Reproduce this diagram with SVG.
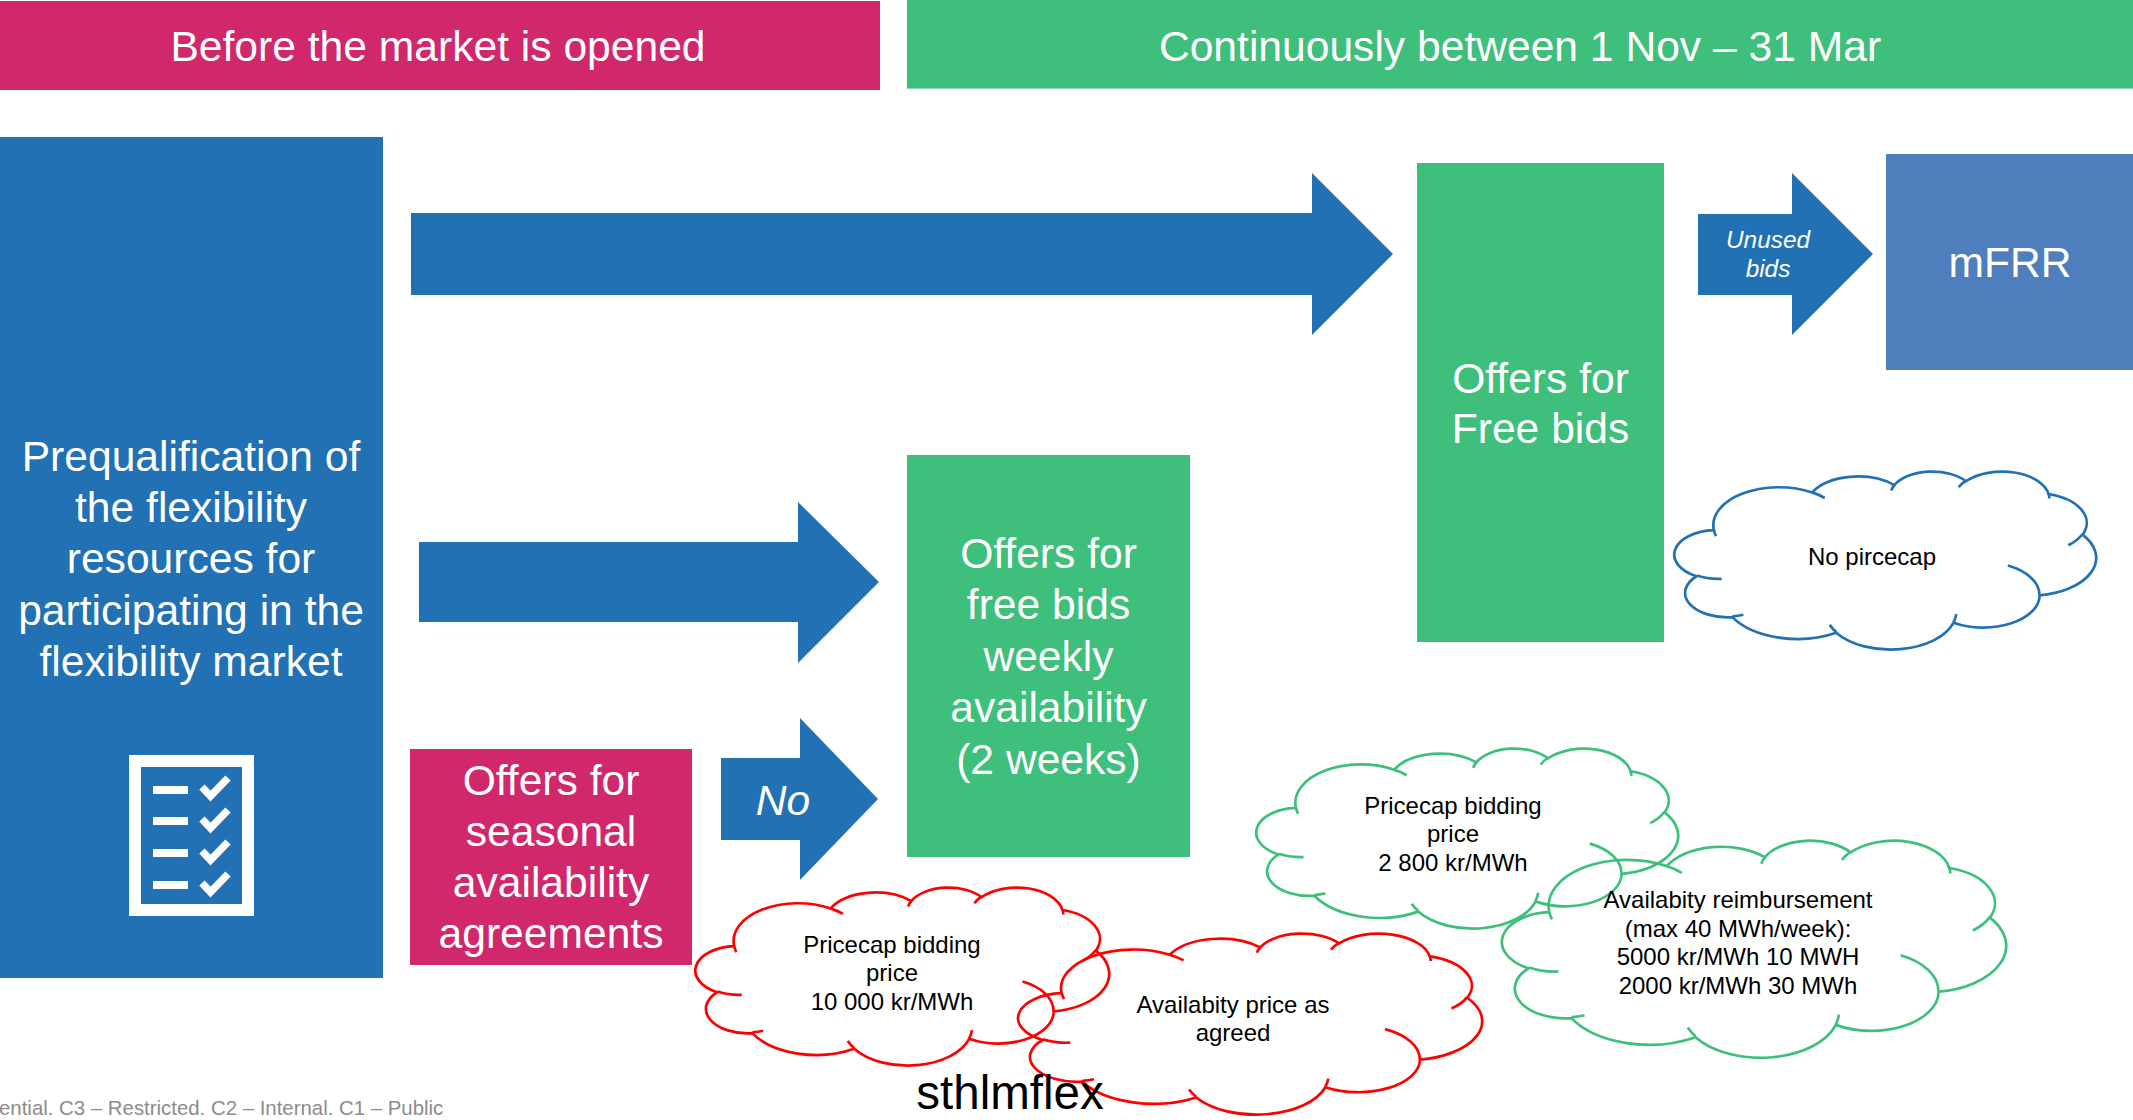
<svg xmlns="http://www.w3.org/2000/svg" width="2133" height="1120" viewBox="0 0 2133 1120">
<style>
text{font-family:"Liberation Sans",Arial,Helvetica,sans-serif}
.w{fill:#ffffff;font-size:42.6px;text-anchor:middle}
.k{fill:#000000;font-size:24px;text-anchor:middle}
.mag{fill:#D1276B}
.grn{fill:#3EC07C}
.blu{fill:#2271B4}
.cl{fill:none;stroke-width:2.7}
.cb{stroke:#2271B4}
.cg{stroke:#3EC07C}
.cr{stroke:#FF0000}
</style>
<defs>
<g id="cloud">
<path vector-effect="non-scaling-stroke" d="M39 143.7A67.53 91.9 0 0 1 140.04 52.01A53.33 72.67 0 0 1 224.55 34.31A43.65 59.45 0 0 1 298.32 24.79A48.57 65.95 0 0 1 383.18 55.73A53.33 72.73 0 0 1 418.18 154.57A67.75 92.2 0 0 1 374.03 301.99A57.85 78.67 0 0 1 285.54 368.09A67.52 92.15 0 0 1 164.79 392.62A77.2 105.43 0 0 1 58.02 354.66A43.6 59.18 0 0 1 21.11 255.44A43.45 59.45 0 0 1 39 143.7Z"/>
<path vector-effect="non-scaling-stroke" d="M46.93 261.77A43.45 59.45 0 0 1 21.6 253.8M69.28 348.99A43.6 59.18 0 0 1 58.2 352.8M164.78 390.9A67.52 92.15 0 0 1 158.1 373.49M288.27 347.51A67.52 92.15 0 0 1 285.6 366.6M341.29 229.54A57.85 78.67 0 0 1 373.8 300.9M417.98 153.54A53.33 72.73 0 0 1 403.5 180.3M383.24 54.26A48.57 65.95 0 0 1 384 66.91M290.78 39.52A48.57 65.95 0 0 1 298.19 23.39M221.41 47.2A43.65 59.45 0 0 1 225.01 33.31M140 51.92A67.53 91.9 0 0 1 153 65.41M41.27 157.89A67.53 91.9 0 0 1 39.01 143.7"/>
</g>
</defs>
<rect width="2133" height="1120" fill="#ffffff"/>

<g id="header-before">
<rect class="mag" x="0" y="1" width="880" height="89"/>
<text class="w" x="438" y="61">Before the market is opened</text>
</g>
<g id="header-continuously">
<rect class="grn" x="907" y="0" width="1226" height="88.6"/>
<text class="w" x="1520" y="61">Continuously between 1 Nov – 31 Mar</text>
</g>

<g id="prequalification">
<rect class="blu" x="0" y="137" width="383" height="841"/>
<text class="w" x="191" y="471">Prequalification of</text>
<text class="w" x="191" y="522">the flexibility</text>
<text class="w" x="191" y="573">resources for</text>
<text class="w" x="191" y="625">participating in the</text>
<text class="w" x="191" y="676">flexibility market</text>
<g id="checklist-icon">
<rect x="135" y="761" width="113" height="149" fill="none" stroke="#ffffff" stroke-width="12"/>
<g fill="#ffffff">
<rect x="153" y="786" width="35" height="8"/>
<rect x="153" y="817" width="35" height="8"/>
<rect x="153" y="849" width="35" height="8"/>
<rect x="153" y="881" width="35" height="8"/>
</g>
<g fill="none" stroke="#ffffff" stroke-width="7.5">
<path d="M202 787L210.5 796L228 778"/>
<path d="M202 819L210.5 828L228 810"/>
<path d="M202 851L210.5 860L228 842"/>
<path d="M202 883L210.5 892L228 874"/>
</g>
</g>
</g>

<g id="seasonal-offers">
<rect class="mag" x="410" y="749" width="282" height="216"/>
<text class="w" x="551" y="795">Offers for</text>
<text class="w" x="551" y="846">seasonal</text>
<text class="w" x="551" y="897">availability</text>
<text class="w" x="551" y="948">agreements</text>
</g>

<g id="weekly-offers">
<rect class="grn" x="907" y="455" width="283" height="402"/>
<text class="w" x="1048.5" y="568">Offers for</text>
<text class="w" x="1048.5" y="619">free bids</text>
<text class="w" x="1048.5" y="671">weekly</text>
<text class="w" x="1048.5" y="722">availability</text>
<text class="w" x="1048.5" y="774">(2 weeks)</text>
</g>

<g id="free-bids">
<rect class="grn" x="1417" y="163" width="247" height="479"/>
<text class="w" x="1540.5" y="393">Offers for</text>
<text class="w" x="1540.5" y="443">Free bids</text>
</g>

<g id="mfrr">
<rect x="1886" y="154" width="247" height="216" fill="#4F7EBC"/>
<text class="w" x="2010" y="277">mFRR</text>
</g>

<g id="connectors">
<path class="blu" d="M411 213L1312 213L1312 173L1393 254L1312 335L1312 295L411 295Z"/>
<path class="blu" d="M419 542L798 542L798 502L879 582L798 663L798 622L419 622Z"/>
<path class="blu" d="M721 758L800 758L800 718L878 799L800 880L800 840L721 840Z"/>
<text class="w" x="783" y="815" style="font-style:italic">No</text>
<path class="blu" d="M1698 214L1792 214L1792 173L1873 254L1792 335L1792 295L1698 295Z"/>
<text x="1768" y="248" fill="#ffffff" font-size="24.4" font-style="italic" text-anchor="middle">Unused</text>
<text x="1768" y="277" fill="#ffffff" font-size="24.4" font-style="italic" text-anchor="middle">bids</text>
</g>

<g id="cloud-no-pricecap">
<use href="#cloud" class="cl cb" transform="translate(1676 471) scale(0.9722 0.412)"/>
<text class="k" x="1872" y="565">No pircecap</text>
</g>

<g id="cloud-pricecap-2800">
<use href="#cloud" class="cl cg" transform="translate(1258 748) scale(0.9722 0.4167)"/>
<text class="k" x="1453" y="813.5">Pricecap bidding</text>
<text class="k" x="1453" y="842">price</text>
<text class="k" x="1453" y="870.5">2 800 kr/MWh</text>
</g>

<g id="cloud-reimbursement">
<use href="#cloud" class="cl cg" transform="translate(1504 840) scale(1.162 0.5023)"/>
<text class="k" x="1738" y="908">Availabity reimbursement</text>
<text class="k" x="1738" y="937">(max 40 MWh/week):</text>
<text class="k" x="1738" y="965">5000 kr/MWh 10 MWH</text>
<text class="k" x="1738" y="994">2000 kr/MWh 30 MWh</text>
</g>

<g id="cloud-pricecap-10000">
<use href="#cloud" class="cl cr" transform="translate(697 887) scale(0.9537 0.412)"/>
<text class="k" x="892" y="953">Pricecap bidding</text>
<text class="k" x="892" y="981">price</text>
<text class="k" x="892" y="1010">10 000 kr/MWh</text>
</g>

<g id="cloud-availability-price">
<use href="#cloud" class="cl cr" transform="translate(1020 933) scale(1.0694 0.419)"/>
<text class="k" x="1233" y="1013">Availabity price as</text>
<text class="k" x="1233" y="1041">agreed</text>
</g>

<g id="footer">
<text x="-1" y="1115" fill="#8C8C8C" font-size="20.4">ential. C3 – Restricted. C2 – Internal. C1 – Public</text>
<text x="1010" y="1109" fill="#000000" font-size="47.5" text-anchor="middle">sthlmflex</text>
</g>
</svg>
